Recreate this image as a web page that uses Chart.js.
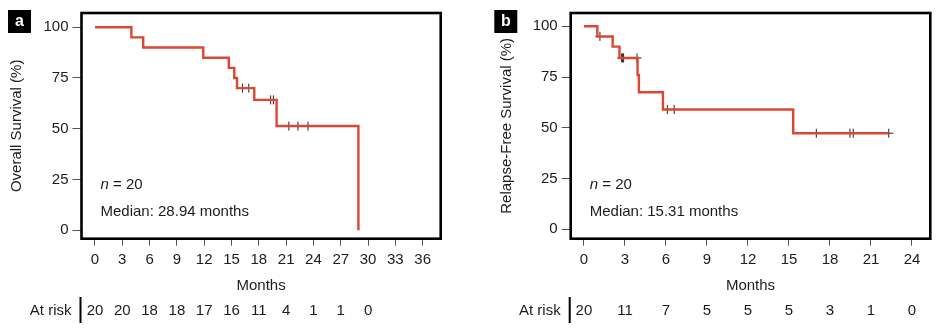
<!DOCTYPE html>
<html>
<head>
<meta charset="utf-8">
<script src="https://cdn.jsdelivr.net/npm/chart.js@4.4.1/dist/chart.umd.min.js"></script>
<style>
  html, body { margin: 0; padding: 0; background: #fff; }
  #wrap { position: relative; width: 940px; height: 335px; }
  canvas { position: absolute; top: 0; }
  #panelA { left: 0; }
  #panelB { left: 470px; }
</style>
</head>
<body>
<div id="wrap">
  <canvas id="panelA" width="470" height="335"></canvas>
  <canvas id="panelB" width="470" height="335"></canvas>
</div>
<script>
// Overall survival (panel a)
const osEventMonths = [0, 4.0, 5.3, 11.9, 14.7, 15.3, 15.6, 17.5, 19.95, 28.94];
const osSurvival = [100, 95, 90, 85, 80, 75, 70, 64.2, 51.3, 0];
const osCensorMonths = [16.2, 16.9, 19.3, 19.6, 21.3, 22.3, 23.4];
const osTicks = [0, 3, 6, 9, 12, 15, 18, 21, 24, 27, 30, 33, 36];
const osRiskMonths = [0, 3, 6, 9, 12, 15, 18, 21, 24, 27, 30];
const osAtRisk = [20, 20, 18, 18, 17, 16, 11, 4, 1, 1, 0];

// Relapse-free survival (panel b)
const rfsEventMonths = [0, 0.98, 2.1, 2.6, 3.92, 4.02, 5.78, 15.31, 22.3];
const rfsSurvival = [100, 95, 90, 84.4, 76, 67.5, 59, 47.3, 47.3];
const rfsCensorMonths = [1.17, 2.76, 2.83, 2.9, 3.88, 6.1, 6.6, 17.0, 19.46, 19.7, 22.3];
const rfsTicks = [0, 3, 6, 9, 12, 15, 18, 21, 24];
const rfsRiskMonths = [0, 3, 6, 9, 12, 15, 18, 21, 24];
const rfsAtRisk = [20, 11, 7, 5, 5, 5, 3, 1, 0];

const yTicks = [0, 25, 50, 75, 100];

const FONT = "'Liberation Sans', Arial, Helvetica, sans-serif";
const RED = "#dd4631";
const INK = "#1c1c1c";

// survival level of the step curve at time t
function stepValue(times, surv, t) {
    let v = surv[0];
    for (let i = 0; i < times.length; i++) {
        if (times[i] <= t) v = surv[i];
    }
    return v;
}

const panelDecor = {
    id: "panelDecor",
    afterDraw(chart, args, opts) {
        const ctx = chart.ctx;
        const area = chart.chartArea;
        const xs = chart.scales.x;

        // frame around the plot
        ctx.save();
        ctx.strokeStyle = "#000";
        ctx.lineWidth = 2.6;
        ctx.strokeRect(area.left, area.top, area.right - area.left, area.bottom - area.top);

        // panel letter
        ctx.fillStyle = "#000";
        ctx.fillRect(opts.letterX, 10, 23, 23);
        ctx.fillStyle = "#fff";
        ctx.font = "bold 16px " + FONT;
        ctx.textAlign = "center";
        ctx.textBaseline = "middle";
        ctx.fillText(opts.letter, opts.letterX + 11.5, 22);

        // n and median
        ctx.fillStyle = INK;
        ctx.textAlign = "left";
        const tx = area.left + 19;
        ctx.font = "italic 15px " + FONT;
        ctx.fillText("n", tx, 185);
        const nw = ctx.measureText("n").width;
        ctx.font = "15px " + FONT;
        ctx.fillText(" = 20", tx + nw, 185);
        ctx.fillText(opts.median, tx, 212);

        // numbers at risk
        ctx.textAlign = "right";
        ctx.fillText("At risk", area.left - 10, 311);
        ctx.strokeStyle = "#000";
        ctx.lineWidth = 2;
        ctx.beginPath();
        ctx.moveTo(area.left - 1, 297);
        ctx.lineTo(area.left - 1, 323);
        ctx.stroke();
        ctx.textAlign = "center";
        opts.riskMonths.forEach((m, i) => {
            ctx.fillText(String(opts.atRisk[i]), xs.getPixelForValue(m), 311);
        });
        ctx.restore();
    }
};

function makePanel(id, p) {
    const curve = p.times.map((t, i) => ({ x: t, y: p.surv[i] }));
    const censors = p.censors.map(t => ({ x: t, y: stepValue(p.times, p.surv, t) }));

    return new Chart(document.getElementById(id), {
        type: "scatter",
        data: {
            datasets: [
                {
                    data: curve,
                    showLine: true,
                    stepped: "before",
                    borderColor: RED,
                    borderWidth: 2.4,
                    pointRadius: 0,
                    fill: false
                },
                {
                    data: censors,
                    pointStyle: "cross",
                    pointRadius: 4.5,
                    borderColor: "#222",
                    borderWidth: 1,
                    showLine: false
                }
            ]
        },
        options: {
            responsive: false,
            animation: false,
            devicePixelRatio: 1,
            layout: { padding: { left: p.padLeft, right: p.padRight, top: 9.5, bottom: 40 } },
            plugins: {
                legend: { display: false },
                tooltip: { enabled: false },
                panelDecor: {
                    letter: p.letter,
                    letterX: p.letterX,
                    median: p.median,
                    riskMonths: p.riskMonths,
                    atRisk: p.atRisk
                }
            },
            scales: {
                x: {
                    type: "linear",
                    min: p.xMin,
                    max: p.xMax,
                    afterBuildTicks: s => { s.ticks = p.ticks.map(v => ({ value: v })); },
                    afterFit: s => { s.height = 56.3; },
                    grid: { drawOnChartArea: false, drawTicks: true, tickLength: 7, color: "#555", lineWidth: 1 },
                    border: { display: false },
                    ticks: { color: INK, font: { family: FONT, size: 15 }, padding: 5, maxRotation: 0, autoSkip: false },
                    title: { display: true, text: "Months", color: INK, font: { family: FONT, size: 15 }, padding: { top: 0, bottom: 0 } }
                },
                y: {
                    type: "linear",
                    min: p.yMin,
                    max: p.yMax,
                    afterBuildTicks: s => { s.ticks = yTicks.map(v => ({ value: v })); },
                    afterFit: s => { s.width = p.yWidth; },
                    grid: { drawOnChartArea: false, drawTicks: true, tickLength: 9, color: "#555", lineWidth: 1 },
                    border: { display: false },
                    ticks: { color: INK, font: { family: FONT, size: 15 }, padding: 4 },
                    title: { display: true, text: p.yTitle, color: INK, font: { family: FONT, size: 15 }, padding: { top: 8, bottom: 0 } }
                }
            }
        },
        plugins: [panelDecor]
    });
}

makePanel("panelA", {
    times: osEventMonths, surv: osSurvival, censors: osCensorMonths,
    ticks: osTicks, riskMonths: osRiskMonths, atRisk: osAtRisk,
    xMin: -1.48, xMax: 37.98, yMin: -4.22, yMax: 107.04,
    padLeft: 0, padRight: 29.3, yWidth: 81.5,
    letter: "a", letterX: 8,
    yTitle: "Overall Survival (%)", median: "Median: 28.94 months"
});

makePanel("panelB", {
    times: rfsEventMonths, surv: rfsSurvival, censors: rfsCensorMonths,
    ticks: rfsTicks, riskMonths: rfsRiskMonths, atRisk: rfsAtRisk,
    xMin: -0.97, xMax: 25.34, yMin: -4.7, yMax: 106.55,
    padLeft: 20, padRight: 9.7, yWidth: 80.7,
    letter: "b", letterX: 24.3,
    yTitle: "Relapse-Free Survival (%)", median: "Median: 15.31 months"
});
</script>
</body>
</html>
